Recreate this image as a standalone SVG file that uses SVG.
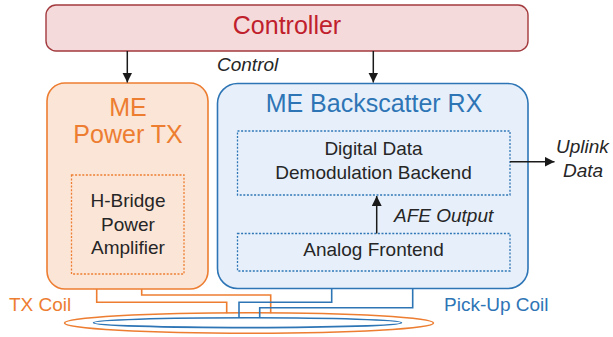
<svg xmlns="http://www.w3.org/2000/svg" width="613" height="337" viewBox="0 0 613 337">
<defs>
<marker id="ah" viewBox="0 0 10 10" refX="10" refY="5" markerWidth="10" markerHeight="10" markerUnits="userSpaceOnUse" orient="auto">
<path d="M0,0 L10,5 L0,10 z" fill="#1a1a1a"/>
</marker>
<style>
text{font-family:"Liberation Sans",Arial,sans-serif;}
.t{font-size:19px;fill:#262626;text-anchor:middle;}
.i{font-size:19px;fill:#262626;font-style:italic;}
.h{font-size:25px;text-anchor:middle;}
.dash{stroke-width:1.3;stroke-dasharray:2 1.6;}
.arr{stroke:#1a1a1a;stroke-width:1.5;fill:none;marker-end:url(#ah);}
.ow{stroke:#ed7d31;stroke-width:1.6;fill:none;}
.bw{stroke:#2e75b6;stroke-width:1.6;fill:none;}
</style>
</defs>
<rect width="613" height="337" fill="#ffffff"/>

<g id="controller">
<rect x="46" y="5" width="482" height="46" rx="10" fill="#f4dada" stroke="#a33a3e" stroke-width="1.4"/>
<text class="h" x="287" y="34" fill="#c0202c">Controller</text>
</g>

<g id="power-tx">
<rect x="47" y="83" width="161" height="206" rx="18" fill="#fbe5d6" stroke="#ed7d31" stroke-width="1.6"/>
<text class="h" x="128" y="116" fill="#ed7d31">ME</text>
<text class="h" x="128" y="143" fill="#ed7d31">Power TX</text>
</g>

<g id="hbridge">
<rect x="71.5" y="175" width="112.5" height="99" fill="none" stroke="#ed7d31" class="dash"/>
<text class="t" x="128" y="207">H-Bridge</text>
<text class="t" x="128" y="231">Power</text>
<text class="t" x="128" y="254">Amplifier</text>
</g>

<g id="backscatter-rx">
<rect x="217.5" y="83.5" width="310.5" height="205" rx="20" fill="#e7f0fa" stroke="#2e75b6" stroke-width="1.6"/>
<text class="h" x="374" y="112" fill="#2e75b6">ME Backscatter RX</text>
</g>

<g id="digital-backend">
<rect x="237.5" y="131" width="272.5" height="64" fill="none" stroke="#2e75b6" class="dash"/>
<text class="t" x="373.5" y="155">Digital Data</text>
<text class="t" x="373.5" y="179">Demodulation Backend</text>
</g>

<g id="analog-frontend">
<rect x="237.5" y="233.5" width="272.5" height="37.5" fill="none" stroke="#2e75b6" class="dash"/>
<text class="t" x="373.5" y="256">Analog Frontend</text>
</g>

<g id="tx-coil">
<ellipse cx="249" cy="323" rx="184.5" ry="10.3" fill="none" stroke="#ed7d31" stroke-width="1.6"/>
<text x="9" y="311" style="font-size:19px" fill="#ed7d31">TX Coil</text>
</g>

<g id="pickup-coil">
<ellipse cx="247.5" cy="322.7" rx="154" ry="4.9" fill="none" stroke="#2e75b6" stroke-width="1.6"/>
<text x="444" y="311" style="font-size:19px" fill="#2e75b6">Pick-Up Coil</text>
</g>

<g id="connectors">
<line class="arr" x1="127.3" y1="51" x2="127.3" y2="82.5"/>
<line class="arr" x1="373.3" y1="51" x2="373.3" y2="82.5"/>
<text class="i" x="217" y="71">Control</text>
<line class="arr" x1="376.7" y1="233.5" x2="376.7" y2="196"/>
<text class="i" x="394" y="222">AFE Output</text>
<line class="arr" x1="510" y1="161.7" x2="554.5" y2="161.7"/>
<text class="i" x="556" y="153">Uplink</text>
<text class="i" x="563" y="177">Data</text>
<polyline class="ow" points="96.7,289 96.7,302.3 226.7,302.3 226.7,313.3"/>
<polyline class="ow" points="141.7,289 141.7,295 270.7,295 270.7,313.3"/>
<polyline class="bw" points="331.7,288.5 331.7,302.3 239,302.3 239,318"/>
<polyline class="bw" points="412.7,288.5 412.7,307.7 259.7,307.7 259.7,318"/>
</g>
</svg>
